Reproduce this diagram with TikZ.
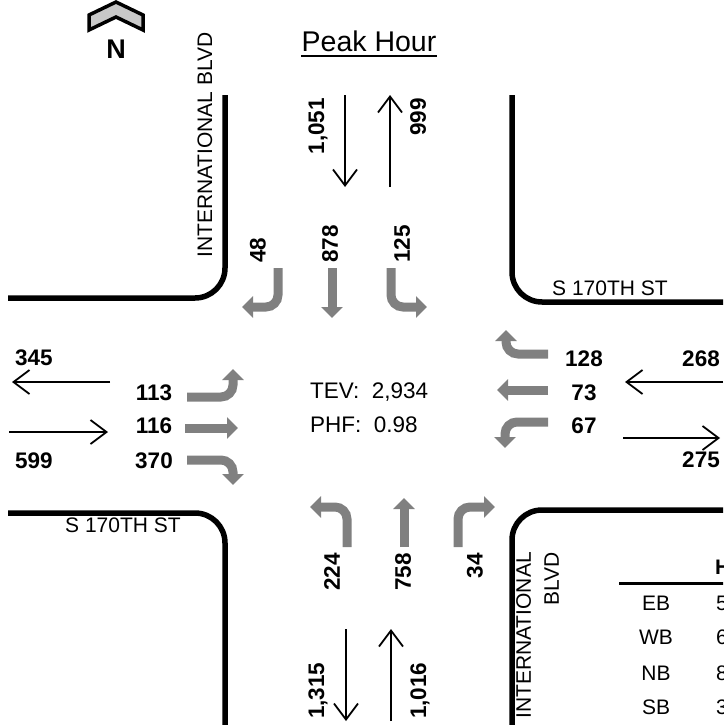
\documentclass[tikz,border=0pt]{standalone}
\usepackage{fontspec}
\setmainfont{Liberation Sans}
\usetikzlibrary{arrows.meta}
\definecolor{tgray}{RGB}{128,128,128}
\definecolor{ngray}{RGB}{200,200,200}
\tikzset{
  road/.style={line width=5.5pt, rounded corners=30pt},
  turn/.style={tgray, line width=9pt, rounded corners=12pt, -{Triangle[width=21pt,length=11pt]}},
  thinarr/.style={line width=1.8pt, -{Straight Barb[length=16pt,width=24pt]}},
  vol/.style={font=\fontsize{22.5}{26}\selectfont\bfseries, inner sep=0pt},
  lbl/.style={font=\fontsize{21}{23}\selectfont, inner sep=0pt},
  mid/.style={font=\fontsize{22.5}{26}\selectfont, inner sep=0pt},
}
\begin{document}
\begin{tikzpicture}[x=1pt,y=-1pt]
\useasboundingbox (0,0) rectangle (723,725);
\clip (0,0) rectangle (723,725);
% roads
\draw[road] (225,95) -- (225,298) -- (8,298);
\draw[road] (512,95) -- (512,302) -- (735,302);
\draw[road] (8,513) -- (225,513) -- (225,735);
\draw[road] (735,510) -- (512,510) -- (512,735);
% road names
\node[lbl, rotate=90, anchor=east] (nwname) at (205,32) {INTERNATIONAL BLVD};
\node[lbl] (nename) at (610,288) {S 170TH ST};
\node[lbl] (swname) at (123,525) {S 170TH ST};
\node[lbl, rotate=90, anchor=north east, align=right, font=\fontsize{21}{28}\selectfont] (sename) at (516,552) {INTERNATIONAL\\BLVD};
% north arrow
\draw[line width=3.5pt, fill=ngray, line join=miter] (89,15) -- (116,2) -- (143,15) -- (143,30) -- (116,17) -- (89,30) -- cycle;
\node[font=\fontsize{27}{30}\selectfont\bfseries, inner sep=0pt] (north) at (116,49) {N};
% title
\node[font=\fontsize{28.5}{32}\selectfont, inner sep=0pt, anchor=base] (title) at (369,52) {Peak Hour};
\draw[line width=1.6pt] ([yshift=-4pt]title.base west) -- ([yshift=-4pt]title.base east);
% centre
\node[mid, anchor=west] (tev) at (310,392) {TEV:\ \ 2,934};
\node[mid, anchor=west] (phf) at (310,425) {PHF:\ \ 0.98};
% north approach
\coordinate (a48s) at (278,268); \coordinate (a48c) at (278,307); \coordinate (a48e) at (242,307);
\draw[turn] (a48s) -- (a48c) -- (a48e);
\coordinate (a878s) at (332,268); \coordinate (a878e) at (332,318);
\draw[turn] (a878s) -- (a878e);
\coordinate (a125s) at (391,268); \coordinate (a125c) at (391,307); \coordinate (a125e) at (427,307);
\draw[turn] (a125s) -- (a125c) -- (a125e);
\node[vol, rotate=90, anchor=west] (v48) at (258,263) {48};
\node[vol, rotate=90, anchor=west] (v878) at (330,263) {878};
\node[vol, rotate=90, anchor=west] (v125) at (402,263) {125};
% south approach
\coordinate (a224s) at (347,547); \coordinate (a224c) at (347,507); \coordinate (a224e) at (310,507);
\draw[turn] (a224s) -- (a224c) -- (a224e);
\coordinate (a758s) at (404,547); \coordinate (a758e) at (404,498);
\draw[turn] (a758s) -- (a758e);
\coordinate (a34s) at (458,547); \coordinate (a34c) at (458,507); \coordinate (a34e) at (495,507);
\draw[turn] (a34s) -- (a34c) -- (a34e);
\node[vol, rotate=90, anchor=east] (v224) at (332,553) {224};
\node[vol, rotate=90, anchor=east] (v758) at (403,553) {758};
\node[vol, rotate=90, anchor=east] (v34) at (475,553) {34};
% west approach
\coordinate (a113s) at (187,397); \coordinate (a113c) at (233,397); \coordinate (a113e) at (233,369);
\draw[turn] (a113s) -- (a113c) -- (a113e);
\coordinate (a116s) at (185,428); \coordinate (a116e) at (238,428);
\draw[turn] (a116s) -- (a116e);
\coordinate (a370s) at (187,460); \coordinate (a370c) at (233,460); \coordinate (a370e) at (233,485);
\draw[turn] (a370s) -- (a370c) -- (a370e);
\node[vol] (v113) at (154,393) {113};
\node[vol] (v116) at (154,426) {116};
\node[vol] (v370) at (154,461) {370};
% east approach
\coordinate (a128s) at (548,354); \coordinate (a128c) at (506,354); \coordinate (a128e) at (506,330);
\draw[turn] (a128s) -- (a128c) -- (a128e);
\coordinate (a73s) at (548,390); \coordinate (a73e) at (497,390);
\draw[turn] (a73s) -- (a73e);
\coordinate (a67s) at (548,422); \coordinate (a67c) at (505,422); \coordinate (a67e) at (505,448);
\draw[turn] (a67s) -- (a67c) -- (a67e);
\node[vol] (v128) at (584,359) {128};
\node[vol] (v73) at (584,393) {73};
\node[vol] (v67) at (584,426) {67};
% link volumes
\coordinate (wl1) at (110,382); \coordinate (wl2) at (12,382);
\draw[thinarr] (wl1) -- (wl2);
\coordinate (wr1) at (9,432); \coordinate (wr2) at (108,432);
\draw[thinarr] (wr1) -- (wr2);
\node[vol] (v345) at (34,358) {345};
\node[vol] (v599) at (34,461) {599};
\coordinate (el1) at (723,382); \coordinate (el2) at (625,382);
\draw[thinarr] (el1) -- (el2);
\coordinate (er1) at (623,438); \coordinate (er2) at (720,438);
\draw[thinarr] (er1) -- (er2);
\node[vol] (v268) at (701,359) {268};
\node[vol] (v275) at (701,460) {275};
\coordinate (nd1) at (345,95); \coordinate (nd2) at (345,187);
\draw[thinarr] (nd1) -- (nd2);
\coordinate (nu1) at (390,187); \coordinate (nu2) at (390,95);
\draw[thinarr] (nu1) -- (nu2);
\node[vol, rotate=90, anchor=east] (v1051) at (318,98) {1,051};
\node[vol, rotate=90, anchor=east] (v999) at (418,98) {999};
\coordinate (sd1) at (346,629); \coordinate (sd2) at (346,721);
\draw[thinarr] (sd1) -- (sd2);
\coordinate (su1) at (391,721); \coordinate (su2) at (391,629);
\draw[thinarr] (su1) -- (su2);
\node[vol, rotate=90, anchor=west] (v1315) at (318,719) {1,315};
\node[vol, rotate=90, anchor=west] (v1016) at (420,719) {1,016};
% table
\coordinate (tl1) at (619,583); \coordinate (tl2) at (735,583);
\draw[line width=3pt] (tl1) -- (tl2);
\node[vol, font=\fontsize{21}{23}\selectfont\bfseries, anchor=west] (thead) at (715,567) {H};
\node[lbl] (teb) at (656,603) {EB};
\node[lbl] (twb) at (656,637) {WB};
\node[lbl] (tnb) at (656,673) {NB};
\node[lbl] (tsb) at (656,707) {SB};
\node[lbl, anchor=west] (veb) at (716,603) {5};
\node[lbl, anchor=west] (vwb) at (716,637) {6};
\node[lbl, anchor=west] (vnb) at (716,673) {8};
\node[lbl, anchor=west] (vsb) at (716,707) {3};
\end{tikzpicture}
\end{document}
